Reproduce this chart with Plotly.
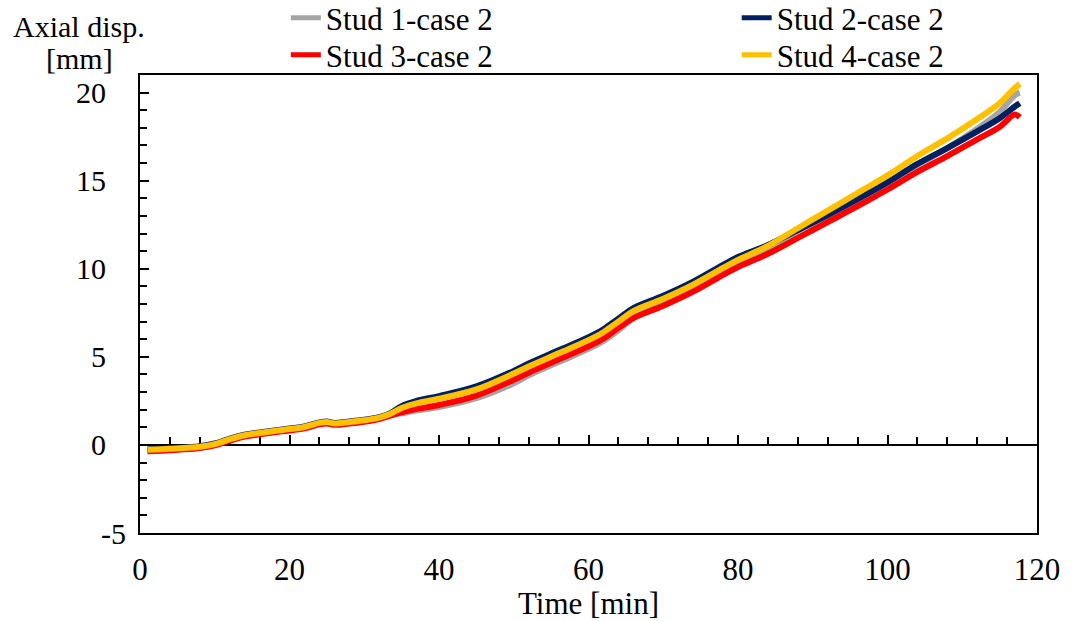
import plotly.graph_objects as go

# ---- data ----
time_min = [1, 4, 8, 10, 12, 14, 16, 19, 22, 24, 25, 26, 28, 30, 32, 33.5, 35, 37, 40, 45,
            50, 52, 56, 60, 62, 64, 66, 70, 74, 78, 80, 84, 88, 92, 96, 100, 104, 108, 112,
            115, 117, 117.7]

stud1 = [-0.33, -0.27, -0.15, 0.0, 0.27, 0.5, 0.63, 0.8, 0.97, 1.2, 1.25, 1.17, 1.25, 1.35,
         1.5, 1.7, 1.8, 1.95, 2.15, 2.65, 3.5, 3.95, 4.7, 5.45, 5.9, 6.5, 7.2, 8.0, 8.8, 9.75,
         10.2, 11.1, 12.15, 13.0, 13.9, 14.85, 15.9, 16.85, 17.95, 18.9, 19.85, 20.0]

stud2 = [-0.25, -0.19, -0.07, 0.08, 0.35, 0.58, 0.71, 0.88, 1.05, 1.28, 1.33, 1.25, 1.33, 1.43,
         1.58, 1.8, 2.2, 2.5, 2.77, 3.32, 4.2, 4.62, 5.37, 6.12, 6.57, 7.17, 7.77, 8.47,
         9.27, 10.22, 10.67, 11.35, 12.2, 13.05, 13.95, 14.9, 15.95, 16.85, 17.8, 18.55,
         19.2, 19.4]

stud3 = [-0.36, -0.3, -0.18, -0.03, 0.24, 0.47, 0.6, 0.77, 0.94, 1.17, 1.22, 1.14, 1.22, 1.32,
         1.47, 1.67, 1.85, 2.05, 2.27, 2.8, 3.7, 4.1, 4.85, 5.6, 6.05, 6.65, 7.2, 7.9, 8.7,
         9.65, 10.1, 10.85, 11.75, 12.65, 13.55, 14.5, 15.5, 16.4, 17.35, 18.05, 18.75, 18.6]

stud4 = [-0.28, -0.22, -0.1, 0.05, 0.32, 0.55, 0.68, 0.85, 1.02, 1.25, 1.3, 1.22, 1.3, 1.4,
         1.55, 1.77, 2.1, 2.36, 2.62, 3.15, 4.05, 4.45, 5.2, 5.95, 6.4, 7.0, 7.6, 8.3, 9.1,
         10.05, 10.5, 11.3, 12.3, 13.3, 14.3, 15.3, 16.4, 17.4, 18.5, 19.4, 20.25, 20.5]

series = [
    ("Stud 1-case 2", stud1, "#A5A5A5", "legend"),
    ("Stud 2-case 2", stud2, "#002060", "legend2"),
    ("Stud 3-case 2", stud3, "#FF0000", "legend3"),
    ("Stud 4-case 2", stud4, "#FFC000", "legend4"),
]

x_ticks = [0, 20, 40, 60, 80, 100, 120]
y_ticks = [-5, 0, 5, 10, 15, 20]
y_tick_text = ["", "0", "5", "10", "15", "20"]   # "-5" is placed separately (offset in original)

FONT = "Liberation Serif, Times New Roman, serif"
FS = 31

fig = go.Figure()
for name, vals, color, leg in series:
    fig.add_trace(go.Scatter(
        x=time_min, y=vals, mode="lines", name=name,
        line=dict(color=color, width=6, shape="spline", smoothing=1.0),
        legend=leg, xaxis="x", yaxis="y",
    ))

# invisible helper trace so the zero-crossing axis (x2) is rendered
fig.add_trace(go.Scatter(x=[0, 120], y=[0, 0], xaxis="x2", yaxis="y", mode="markers",
                         marker=dict(opacity=0), showlegend=False, hoverinfo="skip"))

y_min, y_max = -5, 21


def leg(x, y):
    return dict(xref="paper", yref="paper", x=x, y=y, xanchor="left",
                yanchor="top", bgcolor="rgba(0,0,0,0)", font=dict(size=FS),
                tracegroupgap=0, itemsizing="constant")


fig.update_layout(
    width=1073, height=621,
    margin=dict(l=140, r=36, t=75, b=88, autoexpand=False),
    paper_bgcolor="white", plot_bgcolor="white",
    font=dict(family=FONT, size=FS, color="black"),
    xaxis=dict(
        range=[0, 120], tickvals=x_ticks, ticks="", showgrid=False, zeroline=False,
        showline=True, linecolor="black", linewidth=2, mirror=True,
        tickfont=dict(size=FS), ticklabelstandoff=8,
        title=dict(text="Time [min]", font=dict(size=FS), standoff=2),
    ),
    xaxis2=dict(
        range=[0, 120], overlaying="x", anchor="free",
        position=(0 - y_min) / (y_max - y_min), side="bottom",
        showline=True, linecolor="black", linewidth=2, layer="below traces",
        ticks="inside", tickmode="linear", tick0=0, dtick=20, ticklen=9, tickwidth=2,
        tickcolor="black", showticklabels=False, showgrid=False, zeroline=False,
        minor=dict(ticks="inside", tick0=0, dtick=4, ticklen=7, tickwidth=2, tickcolor="black"),
    ),
    yaxis=dict(
        range=[y_min, y_max], tickvals=y_ticks, ticktext=y_tick_text,
        ticks="inside", ticklen=9, tickwidth=2,
        tickcolor="black", showgrid=False, zeroline=False,
        showline=True, linecolor="black", linewidth=2, mirror=True,
        tickfont=dict(size=30), ticklabelstandoff=26,
        minor=dict(ticks="inside", tick0=0, dtick=1, ticklen=7, tickwidth=2, tickcolor="black"),
    ),
    legend=leg(0.1626, 1.183),
    legend2=leg(0.6652, 1.183),
    legend3=leg(0.1626, 1.1026),
    legend4=leg(0.6652, 1.1026),
    annotations=[
        dict(text="Axial disp.", xref="paper", yref="paper",
             x=(79 - 140) / 897, y=(533 - 27) / 458, showarrow=False,
             xanchor="center", yanchor="middle", font=dict(size=30)),
        dict(text="[mm]", xref="paper", yref="paper",
             x=(79 - 140) / 897, y=(533 - 59) / 458, showarrow=False,
             xanchor="center", yanchor="middle", font=dict(size=30)),
        dict(text="-5", xref="paper", yref="y",
             x=(128 - 140) / 897, y=y_ticks[0], showarrow=False,
             xanchor="right", yanchor="middle", font=dict(size=30)),
    ],
    showlegend=True,
)

fig.write_html("out.html")
